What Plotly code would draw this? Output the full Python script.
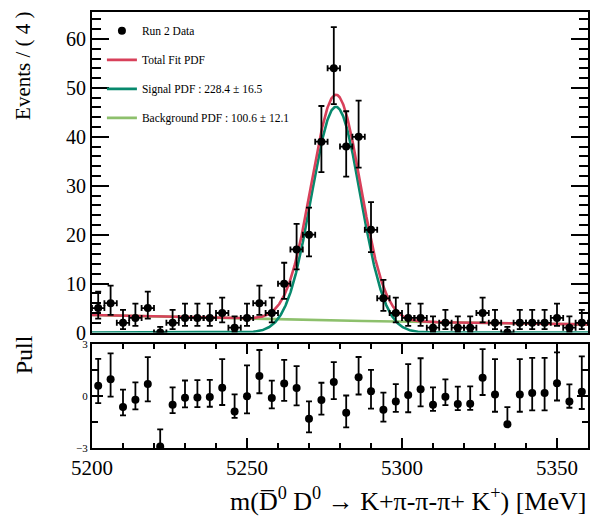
import math
import numpy as np
import plotly.graph_objects as go

# ---- binned data (4 MeV bins, 5200-5360 MeV) ----
bin_lo = 5200.0
bin_width = 4.0
counts = [5, 6, 2, 3, 5, 0, 2, 3, 3, 3,
          4, 1, 3, 6, 4, 10, 17, 20, 39, 54,
          38, 40, 21, 7, 4, 3, 3, 1, 2, 1,
          1, 4, 2, 0, 2, 2, 2, 3, 1, 2]
pulls = [0.60, 0.98, -0.62, -0.20, 0.70, -2.92, -0.49, -0.09, -0.07, -0.05,
         0.49, -0.89, 0.00, 1.17, -0.10, 0.73, 0.47, -1.30, -0.22, 0.83,
         -0.96, 1.10, 0.28, -0.79, -0.30, 0.07, 0.41, -0.49, -0.03, -0.45,
         -0.43, 1.07, 0.10, -1.63, 0.10, 0.18, 0.18, 0.75, -0.31, 0.26]

# ---- fit results ----
n_signal = 228.4
n_signal_err = 16.5
n_background = 100.6
n_background_err = 12.1
sig_mean = 5278.7
sig_sigma = 7.9
bkg_slope = -0.00473
x_min, x_max = 5200.0, 5360.0

centers = [bin_lo + bin_width * (i + 0.5) for i in range(len(counts))]

ONE_SIGMA = 0.6826894921
TAIL = (1.0 - ONE_SIGMA) / 2.0


def pois_cdf(k, mu):
    term = math.exp(-mu)
    s = term
    for i in range(1, k + 1):
        term *= mu / i
        s += term
    return s


def bisect(f, a, b, it=200):
    fa = f(a)
    for _ in range(it):
        mid = 0.5 * (a + b)
        fm = f(mid)
        if (fm > 0) == (fa > 0):
            a, fa = mid, fm
        else:
            b = mid
    return 0.5 * (a + b)


def poisson_interval(n):
    if n == 0:
        return 0.0, -math.log(1.0 - ONE_SIGMA)
    lo = bisect(lambda mu: (1.0 - pois_cdf(n - 1, mu)) - TAIL, 1e-9, float(n))
    hi = bisect(lambda mu: pois_cdf(n, mu) - TAIL, float(n), n + 10 * math.sqrt(n) + 10)
    return lo, hi


err_lo, err_hi = [], []
for n in counts:
    lo, hi = poisson_interval(n)
    err_lo.append(n - lo)
    err_hi.append(hi - n)

# pull error bars: the side facing the curve is normalised to 1
pull_up, pull_dn = [], []
for p, lo, hi in zip(pulls, err_lo, err_hi):
    if p >= 0:
        pull_dn.append(1.0)
        pull_up.append(hi / lo if lo > 0 else 1.0)
    else:
        pull_up.append(1.0)
        pull_dn.append(lo / hi)

# ---- fit curves (events per bin) ----
m = np.linspace(x_min, x_max, 1201)
signal_curve = n_signal * bin_width / (math.sqrt(2 * math.pi) * sig_sigma) * \
    np.exp(-0.5 * ((m - sig_mean) / sig_sigma) ** 2)
k = -bkg_slope
bkg_curve = n_background * bin_width * k * np.exp(-k * (m - x_min)) / \
    (1.0 - math.exp(-k * (x_max - x_min)))
total_curve = signal_curve + bkg_curve

RED = "#d8405a"
TEAL = "#07896d"
LGREEN = "#8dc06c"
FONT = "Liberation Serif, Times New Roman, serif"

fig = go.Figure()

fig.add_trace(go.Scatter(x=m, y=bkg_curve, mode="lines",
                         line=dict(color=LGREEN, width=2.6),
                         name=f"Background PDF : {n_background} ± {n_background_err}",
                         legendgroup="d", legendrank=4, xaxis="x", yaxis="y"))
fig.add_trace(go.Scatter(x=m, y=signal_curve, mode="lines",
                         line=dict(color=TEAL, width=2.6),
                         name=f"Signal PDF : {n_signal} ± {n_signal_err}",
                         legendgroup="c", legendrank=3, xaxis="x", yaxis="y"))
fig.add_trace(go.Scatter(x=m, y=total_curve, mode="lines",
                         line=dict(color=RED, width=2.6),
                         name="Total Fit PDF",
                         legendgroup="b", legendrank=2, xaxis="x", yaxis="y"))
fig.add_trace(go.Scatter(x=centers, y=counts, mode="markers",
                         marker=dict(color="black", size=8),
                         error_y=dict(type="data", symmetric=False, array=err_hi,
                                      arrayminus=err_lo, color="black",
                                      thickness=1.8, width=3),
                         error_x=dict(type="data", array=[bin_width / 2] * len(counts),
                                      color="black", thickness=1.8, width=3),
                         name="Run 2 Data", legendgroup="a", legendrank=1,
                         xaxis="x", yaxis="y"))

fig.add_trace(go.Scatter(x=centers, y=pulls, mode="markers",
                         marker=dict(color="black", size=8),
                         error_y=dict(type="data", symmetric=False, array=pull_up,
                                      arrayminus=pull_dn, color="black",
                                      thickness=1.8, width=3),
                         showlegend=False, xaxis="x2", yaxis="y2"))

axis_common = dict(showline=True, linecolor="black", linewidth=2, mirror="allticks",
                   showgrid=False, zeroline=False, ticks="inside",
                   tickcolor="black", tickwidth=1.5)

fig.update_layout(
    width=596, height=517,
    margin=dict(l=92, r=8, t=6, b=69),
    paper_bgcolor="white", plot_bgcolor="white",
    font=dict(family=FONT, color="black", size=20),
    xaxis=dict(domain=[0, 1], range=[x_min, x_max], anchor="y",
               showticklabels=False, showline=True, linecolor="black",
               linewidth=2, mirror=True, showgrid=False, zeroline=False, ticks=""),
    yaxis=dict(domain=[0.2647, 1], range=[0, 65.5], anchor="x",
               tickvals=[0, 10, 20, 30, 40, 50, 60], ticklen=17,
               minor=dict(dtick=2, tick0=0, ticks="inside", ticklen=9,
                          tickcolor="black", tickwidth=1.5),
               tickfont=dict(size=20, family=FONT), **axis_common),
    xaxis2=dict(domain=[0, 1], range=[x_min, x_max], anchor="y2",
                tickvals=[5200, 5250, 5300, 5350], ticklen=10,
                minor=dict(dtick=10, tick0=5200, ticks="inside", ticklen=5,
                           tickcolor="black", tickwidth=1.5),
                tickfont=dict(size=21, family=FONT), **axis_common),
    yaxis2=dict(domain=[0, 0.2376], range=[-3, 3], anchor="x2",
                tickvals=[-3, 0, 3], ticktext=["\u22123", "0", "3"], ticklen=11,
                minor=dict(dtick=1.5, tick0=0, ticks="inside", ticklen=6,
                           tickcolor="black", tickwidth=1.5),
                tickfont=dict(size=11, family=FONT), **axis_common),
    legend=dict(x=0.02, y=0.99, xanchor="left", yanchor="top",
                bgcolor="rgba(0,0,0,0)", font=dict(size=11.5, family=FONT),
                tracegroupgap=10, itemwidth=30),
    showlegend=True,
)

fig.add_annotation(text="Events / ( 4 )", textangle=-90, xref="paper", yref="paper",
                   x=-0.139, y=1.005, xanchor="center", yanchor="top",
                   showarrow=False, font=dict(size=21, family=FONT))
fig.add_annotation(text="Pull", textangle=-90, xref="paper", yref="paper",
                   x=-0.137, y=0.262, xanchor="center", yanchor="top",
                   showarrow=False, font=dict(size=24, family=FONT))
fig.add_annotation(text="m(D\u0305<sup>0</sup> D<sup>0</sup> \u2192 K+\u03c0-\u03c0-\u03c0+ K<sup>+</sup>) [MeV]",
                   xref="paper", yref="paper", x=1.0, y=-0.117,
                   xanchor="right", yanchor="middle", showarrow=False,
                   font=dict(size=26, family=FONT))

fig.write_html("out.html")
